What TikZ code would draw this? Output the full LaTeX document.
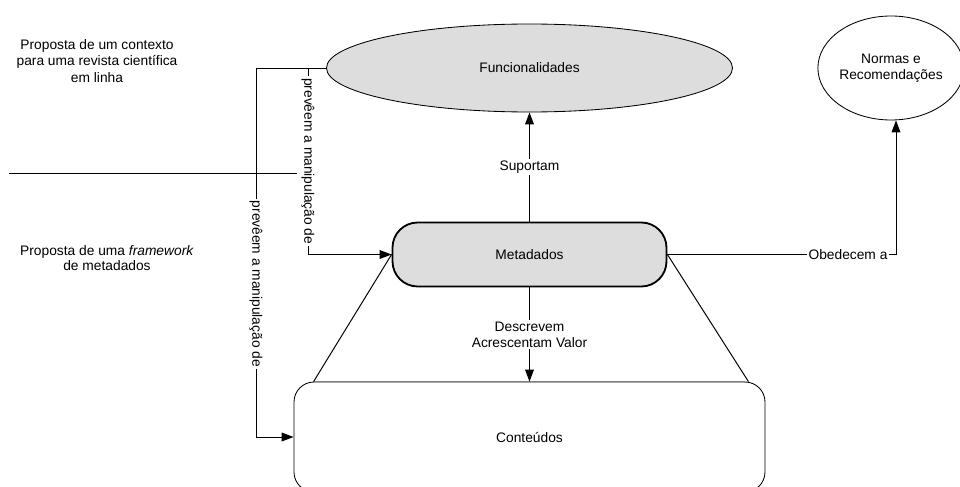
\documentclass[tikz,border=0pt]{standalone}
\usepackage{fontspec}
\setmainfont{Liberation Sans}
\usetikzlibrary{shapes.geometric,arrows.meta,calc}
\definecolor{boxgray}{HTML}{DDDDDD}
\definecolor{edgegray}{HTML}{808080}
\begin{document}
\begin{tikzpicture}[x=0.25mm,y=-0.25mm,
  every node/.style={font=\fontsize{9.8}{11.6}\selectfont},
  conn/.style={line width=0.7pt},
  arr/.style={conn,-{Triangle[length=3mm,width=2.2mm]}},
  lbl/.style={fill=white,inner sep=1.2pt,align=center},
  vlbl/.style={fill=white,inner sep=1.2pt,rotate=-90},
  oval/.style={ellipse,draw,line width=0.6pt,inner sep=0pt,align=center},
  metabox/.style={rectangle,rounded corners=6.3mm,draw,line width=1.3pt,fill=boxgray,
    minimum width=68.5mm,minimum height=16mm,inner sep=0pt},
  contbox/.style={rectangle,rounded corners=5mm,draw,line width=0.6pt,
    minimum width=117.75mm,minimum height=27.5mm,inner sep=0pt},
  plain/.style={align=center,inner sep=0pt}]
\clip (0,0) rectangle (960,487);
\fill[white] (0,0) rectangle (960,487);

% nodes
\node[oval,fill=boxgray,minimum width=101.5mm,minimum height=22mm] (func) at (529.5,68) {Funcionalidades};
\node[oval,minimum width=34.5mm,minimum height=26mm] (norm) at (891,68) {Normas e\\Recomendações};
\node[metabox] (meta) at (529.5,254.5) {Metadados};
\node[contbox] (cont) at (529.5,437) {Conteúdos};
\draw[edgegray,line width=1.1pt] ($(cont.north west)+(20,0)$) -- ($(cont.north east)+(-20,0)$);

% side captions
\node[plain] (ctx) at (97,61) {Proposta de um contexto\\para uma revista científica\\em linha};
\node[plain,font=\fontsize{9.8}{10.6}\selectfont] (fw) at (107,258) {Proposta de uma \textit{framework}\\de metadados};
\coordinate (sepL) at (9,173);
\coordinate (sepR) at (297,173);
\draw[conn] (sepL) -- (sepR);

% connectors
\draw[arr] (meta.north) -- node[lbl]{Suportam} (func.south);
\draw[arr] (meta.south) -- node[lbl]{Descrevem\\Acrescentam Valor} (cont.north);
\coordinate (obd) at (896,255);
\draw[arr] (meta.east) -- node[lbl,pos=0.79]{Obedecem a} (meta.east -| obd) -- (obd |- norm.south);

\coordinate (ka) at (308,68);
\coordinate (kb) at (256,68);
\draw[arr] (func.west) -- (ka) -- node[vlbl]{prevêem a manipulação de} (ka |- meta.west) -- (meta.west);
\draw[arr] (ka) -- (kb) -- node[vlbl,pos=0.585]{prevêem a manipulação de} (kb |- cont.west) -- (cont.west);

% links between Metadados and Conteúdos
\draw[conn] (meta.west) -- ($(cont.north west)+(20,0)$);
\draw[conn] (meta.east) -- ($(cont.north east)+(-17,0)$);
\end{tikzpicture}
\end{document}
